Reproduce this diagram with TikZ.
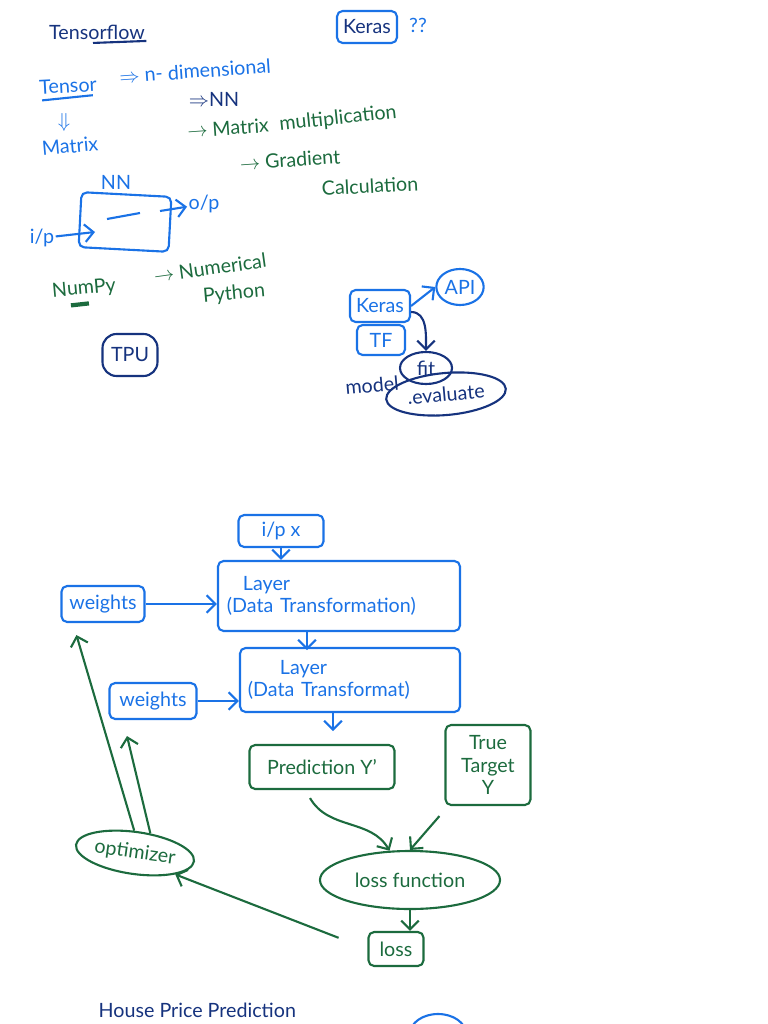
\documentclass[tikz,border=0pt]{standalone}
\usepackage{fontspec}
\setmainfont{Lato}
\usetikzlibrary{shapes.geometric, arrows.meta, positioning, calc}
\definecolor{InkNavy}{HTML}{16337E}
\definecolor{InkBlue}{HTML}{1A72E6}
\definecolor{InkGreen}{HTML}{1C6B3E}

\begin{document}
\begin{tikzpicture}[x=0.025cm, y=-0.025cm, >={Straight Barb[length=2.2mm]},
        note/.style={font=\fontsize{14}{16}\selectfont, inner sep=1pt},
        notebox/.style={rectangle, draw, line width=1.5pt, rounded corners=4pt, font=\fontsize{14}{16}\selectfont, inner sep=3pt},
        noteoval/.style={ellipse, draw, line width=1.5pt, font=\fontsize{14}{16}\selectfont, inner sep=1pt},
        arrow/.style={->, line width=1.5pt}]

    \useasboundingbox (0,0) rectangle (768,1024);
    \clip (0,0) rectangle (768,1024);

    % top notes
    \node[note, text=InkNavy] (title) at (97,32) {Tensorflow};
    \draw[InkNavy, line width=1.5pt] ($(title.south)+(-4,2)$) -- ($(title.south east)+(0,0)$);
    \node[notebox, draw=InkBlue, text=InkNavy, minimum width=1.5cm, minimum height=0.8cm] (kerasq) at (367,27) {Keras};
    \node[note, text=InkBlue] (qq) at (418,25) {??};

    \node[note, text=InkBlue, rotate=3] (tensor) at (68,86) {Tensor};
    \draw[InkBlue, line width=1.5pt] ($(tensor.south west)+(4,4)$) -- ($(tensor.south east)+(-6,2)$);
    \node[note, text=InkBlue, rotate=4] (ndim) at (195,71) {$\Rightarrow$ n- dimensional};
    \node[note, text=InkBlue] (dn) at (64,122) {$\Downarrow$};
    \node[note, text=InkBlue, rotate=5] (matrix) at (70,146) {Matrix};
    \node[note, text=InkNavy] (nnarr) at (214,99) {$\Rightarrow$NN};
    \node[note, text=InkGreen, rotate=4] (mm) at (228,128) {$\rightarrow$ Matrix};
    \node[note, text=InkGreen, rotate=6] (mult) at (338,119) {multiplication};
    \node[note, text=InkGreen, rotate=4] (grad) at (290,160) {$\rightarrow$ Gradient};
    \node[note, text=InkGreen, rotate=3] (calc) at (370,186) {Calculation};

    % small network
    \node[note, text=InkBlue] (nnlabel) at (116,182) {NN};
    \node[rectangle, draw=InkBlue, line width=1.5pt, rounded corners=4pt, minimum width=2.25cm, minimum height=1.375cm, rotate=-3] (nnbox) at (125,222) {};
    \draw[InkBlue, line width=1.5pt] (107,219) -- (140,213);
    \node[note, text=InkBlue] (ip) at (42,238) {i/p};
    \coordinate (nnin) at (95,232);
    \coordinate (nnout) at (160,211);
    \node[note, text=InkBlue] (op) at (204,204) {o/p};
    \draw[arrow, InkBlue] (ip) -- (nnin);
    \draw[arrow, InkBlue] (nnout) -- (op);

    \node[note, text=InkGreen, rotate=5] (numpy) at (84,289) {NumPy};
    \draw[InkGreen, line width=3pt] ($(numpy.south)+(-14,6)$) -- ($(numpy.south)+(4,4)$);
    \node[note, text=InkGreen, rotate=8] (numer) at (210,268) {$\rightarrow$ Numerical};
    \node[note, text=InkGreen, rotate=5] (python) at (234,294) {Python};

    \node[notebox, draw=InkNavy, text=InkNavy, rounded corners=10pt, minimum width=1.375cm, minimum height=1.05cm] (tpu) at (130,355) {TPU};

    % keras stack
    \node[notebox, draw=InkBlue, text=InkBlue, minimum width=1.5cm, minimum height=0.8cm] (keras) at (380,306) {Keras};
    \node[notebox, draw=InkBlue, text=InkBlue, minimum width=1.2cm, minimum height=0.75cm] (tf) at (381,340) {TF};
    \node[noteoval, draw=InkBlue, text=InkBlue, minimum width=1.1cm, minimum height=0.9cm] (api) at (460,287) {API};
    \node[noteoval, draw=InkNavy, text=InkNavy, minimum width=1.3cm, minimum height=0.8cm] (fit) at (426,368) {fit};
    \node[noteoval, draw=InkNavy, text=InkNavy, minimum width=3cm, minimum height=1.05cm, rotate=5] (eval) at (446,394) {.evaluate};
    \node[note, text=InkNavy, rotate=5] (model) at (372,385) {model};
    \draw[arrow, InkBlue] (keras.east) -- (api.west);
    \draw[arrow, InkNavy] ($(keras.east)+(0,6)$) to[out=0, in=90] (fit.north);

    % training loop
    \node[notebox, draw=InkBlue, text=InkBlue, minimum width=2.125cm, minimum height=0.8cm] (inx) at (281,531) {i/p x};
    \node[notebox, draw=InkBlue, text=InkBlue, minimum width=6.05cm, minimum height=1.75cm, align=left, text width=5.6cm] (layer1) at (339,596) {\hspace{0.4cm}Layer\\(Data Transformation)};
    \node[notebox, draw=InkBlue, text=InkBlue, minimum width=2.075cm, minimum height=0.9cm] (w1) at (103,604) {weights};
    \node[notebox, draw=InkBlue, text=InkBlue, minimum width=5.5cm, minimum height=1.6cm, align=left, text width=5.1cm] (layer2) at (350,680) {\hspace{0.8cm}Layer\\(Data Transformat)};
    \node[notebox, draw=InkBlue, text=InkBlue, minimum width=2.175cm, minimum height=0.9cm] (w2) at (153,701) {weights};
    \node[notebox, draw=InkGreen, text=InkGreen, minimum width=3.625cm, minimum height=1.1cm] (pred) at (322,767) {Prediction Y'};
    \node[notebox, draw=InkGreen, text=InkGreen, minimum width=2.125cm, minimum height=2cm, align=center] (truey) at (488,765) {True\\Target\\Y};
    \node[noteoval, draw=InkGreen, text=InkGreen, minimum width=2.8cm, minimum height=1.05cm, rotate=-8] (optim) at (135,853) {optimizer};
    \node[noteoval, draw=InkGreen, text=InkGreen, minimum width=4.5cm, minimum height=1.45cm] (lossfn) at (410,880) {loss function};
    \node[notebox, draw=InkGreen, text=InkGreen, minimum width=1.375cm, minimum height=0.85cm] (loss) at (396,949) {loss};

    \draw[arrow, InkBlue] (inx) -- (inx |- layer1.north);
    \draw[arrow, InkBlue] (w1) -- (layer1.west |- w1);
    \draw[arrow, InkBlue] ($(layer1.south)+(-32,0)$) -- ($(layer1.south)+(-32,18)$);
    \draw[arrow, InkBlue] (w2) -- (layer2.west |- w2);
    \draw[arrow, InkBlue] ($(layer2.south)+(-17,0)$) -- ($(layer2.south)+(-17,18)$);
    \draw[arrow, InkGreen] (optim.100) -- ($(w1.south west)+(16,12)$);
    \draw[arrow, InkGreen] (optim.60) -- ($(w2.south)+(-26,16)$);
    \draw[arrow, InkGreen] ($(pred.south)+(-12,8)$) to[out=-60, in=120] (lossfn.125);
    \draw[arrow, InkGreen] ($(truey.south west)+(-5,10)$) -- (lossfn.north);
    \draw[arrow, InkGreen] (lossfn.south) -- (lossfn.south |- loss.north);
    \draw[arrow, InkGreen, shorten <=22pt] (loss.west) -- (optim.south east);

    % next page start
    \node[note, text=InkNavy, anchor=west] (house) at (97,1010) {House Price Prediction};
    \node[noteoval, draw=InkBlue, minimum width=1.4cm, minimum height=1cm] (next) at (438,1034) {};
\end{tikzpicture}
\end{document}
